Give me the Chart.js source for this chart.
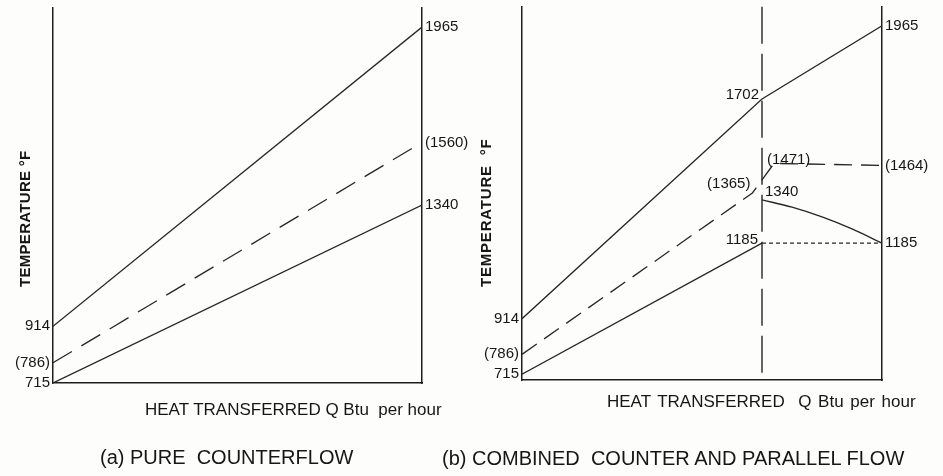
<!DOCTYPE html>
<html>
<head>
<meta charset="utf-8">
<script src="https://cdn.jsdelivr.net/npm/chart.js@4.4.1/dist/chart.umd.min.js"></script>
<style>
  html, body { margin: 0; padding: 0; background: #fdfdfb; }
  body {
    width: 943px; height: 476px; position: relative; overflow: hidden;
    font-family: "Liberation Sans", Arial, sans-serif; color: #161616;
  }
  canvas { position: absolute; top: 0; }
  #chartA { left: 0; }
  #chartB { left: 470px; }
  .txt { position: absolute; white-space: pre; line-height: 1; }
  .xtitle { font-size: 17px; }
  .caption { font-size: 20px; }
  .ytitle {
    font-size: 15px; font-weight: bold;
    transform: rotate(-90deg); transform-origin: left top;
  }
</style>
</head>
<body>
<canvas id="chartA" width="470" height="476"></canvas>
<canvas id="chartB" width="473" height="476"></canvas>

<div class="txt ytitle" style="left:17px; top:287px; letter-spacing:0.3px;">TEMPERATURE °F</div>
<div class="txt ytitle" style="left:478px; top:287px; letter-spacing:0.8px;">TEMPERATURE  °F</div>
<div class="txt xtitle" style="left:145px; top:401px;">HEAT TRANSFERRED Q Btu  per hour</div>
<div class="txt xtitle" style="left:607px; top:393px; word-spacing:2px;">HEAT TRANSFERRED  Q Btu per hour</div>
<div class="txt caption" style="left:100px; top:447px;">(a) PURE  COUNTERFLOW</div>
<div class="txt caption" style="left:442px; top:448px;">(b) COMBINED  COUNTER AND PARALLEL FLOW</div>

<script>
// (a) pure counterflow: Q runs 0..1
const Q_A = [0, 1];
const HOT_A = [914, 1965];
const MEAN_A = [786, 1560];
const COLD_A = [715, 1340];

// (b) combined: counterflow up to Q = 2, parallel flow from 2 to 3
const SPLIT_Q = 2;
const Q_B = [0, 2, 3];
const HOT_B = [914, 1702, 1965];
const Q_B_MEAN = [0, 1.92, 2.1, 3];
const MEAN_B = [786, 1365, 1471, 1464];
const Q_B_COLD = [0, 2];
const COLD_B = [715, 1185];
const Q_B_PAR = [2, 2.25, 2.5, 2.75, 3];
const COLD_B_PAR = [1340, 1314, 1279, 1236, 1185];
const Q_B_OUT = [2, 3];
const COLD_B_OUT = [1185, 1185];

const TICKS_A_LEFT = [715, 786, 914];
const TICKS_A_RIGHT = [1340, 1560, 1965];
const TICKS_B_LEFT = [715, 786, 914];
const TICKS_B_RIGHT = [1185, 1464, 1965];
// mean temperatures are written in brackets
const BRACKETED = [786, 1560, 1365, 1471, 1464];

const INK = '#262626';
const TEXT = '#161616';
const FONT = { family: '"Liberation Sans", Arial, sans-serif', size: 15, lineHeight: 0.5 };

const pts = (xs, ys) => xs.map((x, i) => ({ x: x, y: ys[i] }));
const fmt = v => BRACKETED.includes(v) ? '(' + v + ')' : String(v);

function line(data, dash) {
  return {
    data: data,
    borderColor: INK,
    borderWidth: 1.3,
    borderDash: dash || [],
    pointRadius: 0,
    fill: false,
    tension: 0,
  };
}

function yAxis(pos, min, max, ticks, width) {
  return {
    type: 'linear',
    position: pos,
    min: min,
    max: max,
    afterBuildTicks: s => { s.ticks = ticks.map(v => ({ value: v })); },
    afterFit: s => { s.width = width; },
    grid: { display: false, drawTicks: false },
    border: { display: true, color: '#1e1e1e', width: 1.5 },
    ticks: {
      autoSkip: false,
      padding: 3,
      color: TEXT,
      font: FONT,
      callback: v => fmt(v),
    },
  };
}

function xAxis(max) {
  return {
    type: 'linear',
    min: 0,
    max: max,
    afterFit: s => { s.height = 0; },
    grid: { display: false, drawTicks: false },
    border: { display: true, color: '#1e1e1e', width: 1.5 },
    ticks: { display: false },
  };
}

// split line and the labels in the middle of panel (b)
const midLabels = [
  { x: Q_B[1], y: HOT_B[1], align: 'right', dx: -3, dy: -4 },
  { x: Q_B_MEAN[1], y: MEAN_B[1], align: 'right', dx: -2, dy: -9 },
  { x: Q_B_MEAN[2], y: MEAN_B[2], align: 'left', dx: -7, dy: -4 },
  { x: Q_B_PAR[0], y: COLD_B_PAR[0], align: 'left', dx: 3, dy: -8 },
  { x: Q_B_COLD[1], y: COLD_B[1], align: 'right', dx: -4, dy: -3 },
];

const splitPlugin = {
  id: 'split',
  afterDatasetsDraw(chart) {
    const { ctx, chartArea, scales } = chart;
    const xs = scales.x.getPixelForValue(SPLIT_Q);
    ctx.save();
    ctx.strokeStyle = INK;
    ctx.lineWidth = 1.4;
    ctx.setLineDash([37, 10]);
    ctx.beginPath();
    ctx.moveTo(xs, chartArea.top);
    ctx.lineTo(xs, chartArea.bottom);
    ctx.stroke();

    ctx.fillStyle = TEXT;
    ctx.font = '15px "Liberation Sans", Arial, sans-serif';
    ctx.textBaseline = 'middle';
    midLabels.forEach(l => {
      ctx.textAlign = l.align;
      ctx.fillText(fmt(l.y),
        scales.x.getPixelForValue(l.x) + l.dx,
        scales.y.getPixelForValue(l.y) + l.dy);
    });
    ctx.restore();
  },
};

const common = {
  responsive: false,
  animation: false,
  events: [],
  plugins: { legend: { display: false }, tooltip: { enabled: false }, title: { display: false } },
};

new Chart(document.getElementById('chartA'), {
  type: 'line',
  data: {
    datasets: [
      line(pts(Q_A, HOT_A)),
      line(pts(Q_A, MEAN_A), [22, 11]),
      line(pts(Q_A, COLD_A)),
    ],
  },
  options: Object.assign({}, common, {
    layout: { padding: { top: 8, bottom: 93, left: 0, right: 0 } },
    scales: {
      x: xAxis(1),
      y: yAxis('left', 715, 2032, TICKS_A_LEFT, 53),
      y2: yAxis('right', 715, 2032, TICKS_A_RIGHT, 48),
    },
  }),
});

new Chart(document.getElementById('chartB'), {
  type: 'line',
  data: {
    datasets: [
      line(pts(Q_B, HOT_B)),
      line(pts(Q_B_MEAN, MEAN_B), [18, 9]),
      line(pts(Q_B_COLD, COLD_B)),
      Object.assign(line(pts(Q_B_PAR, COLD_B_PAR)), { cubicInterpolationMode: 'monotone' }),
      line(pts(Q_B_OUT, COLD_B_OUT), [4, 3]),
    ],
  },
  options: Object.assign({}, common, {
    layout: { padding: { top: 5, bottom: 96, left: 0, right: 0 } },
    scales: {
      x: xAxis(3),
      y: yAxis('left', 694, 2033, TICKS_B_LEFT, 52),
      y2: yAxis('right', 694, 2033, TICKS_B_RIGHT, 61),
    },
  }),
  plugins: [splitPlugin],
});
</script>
</body>
</html>
